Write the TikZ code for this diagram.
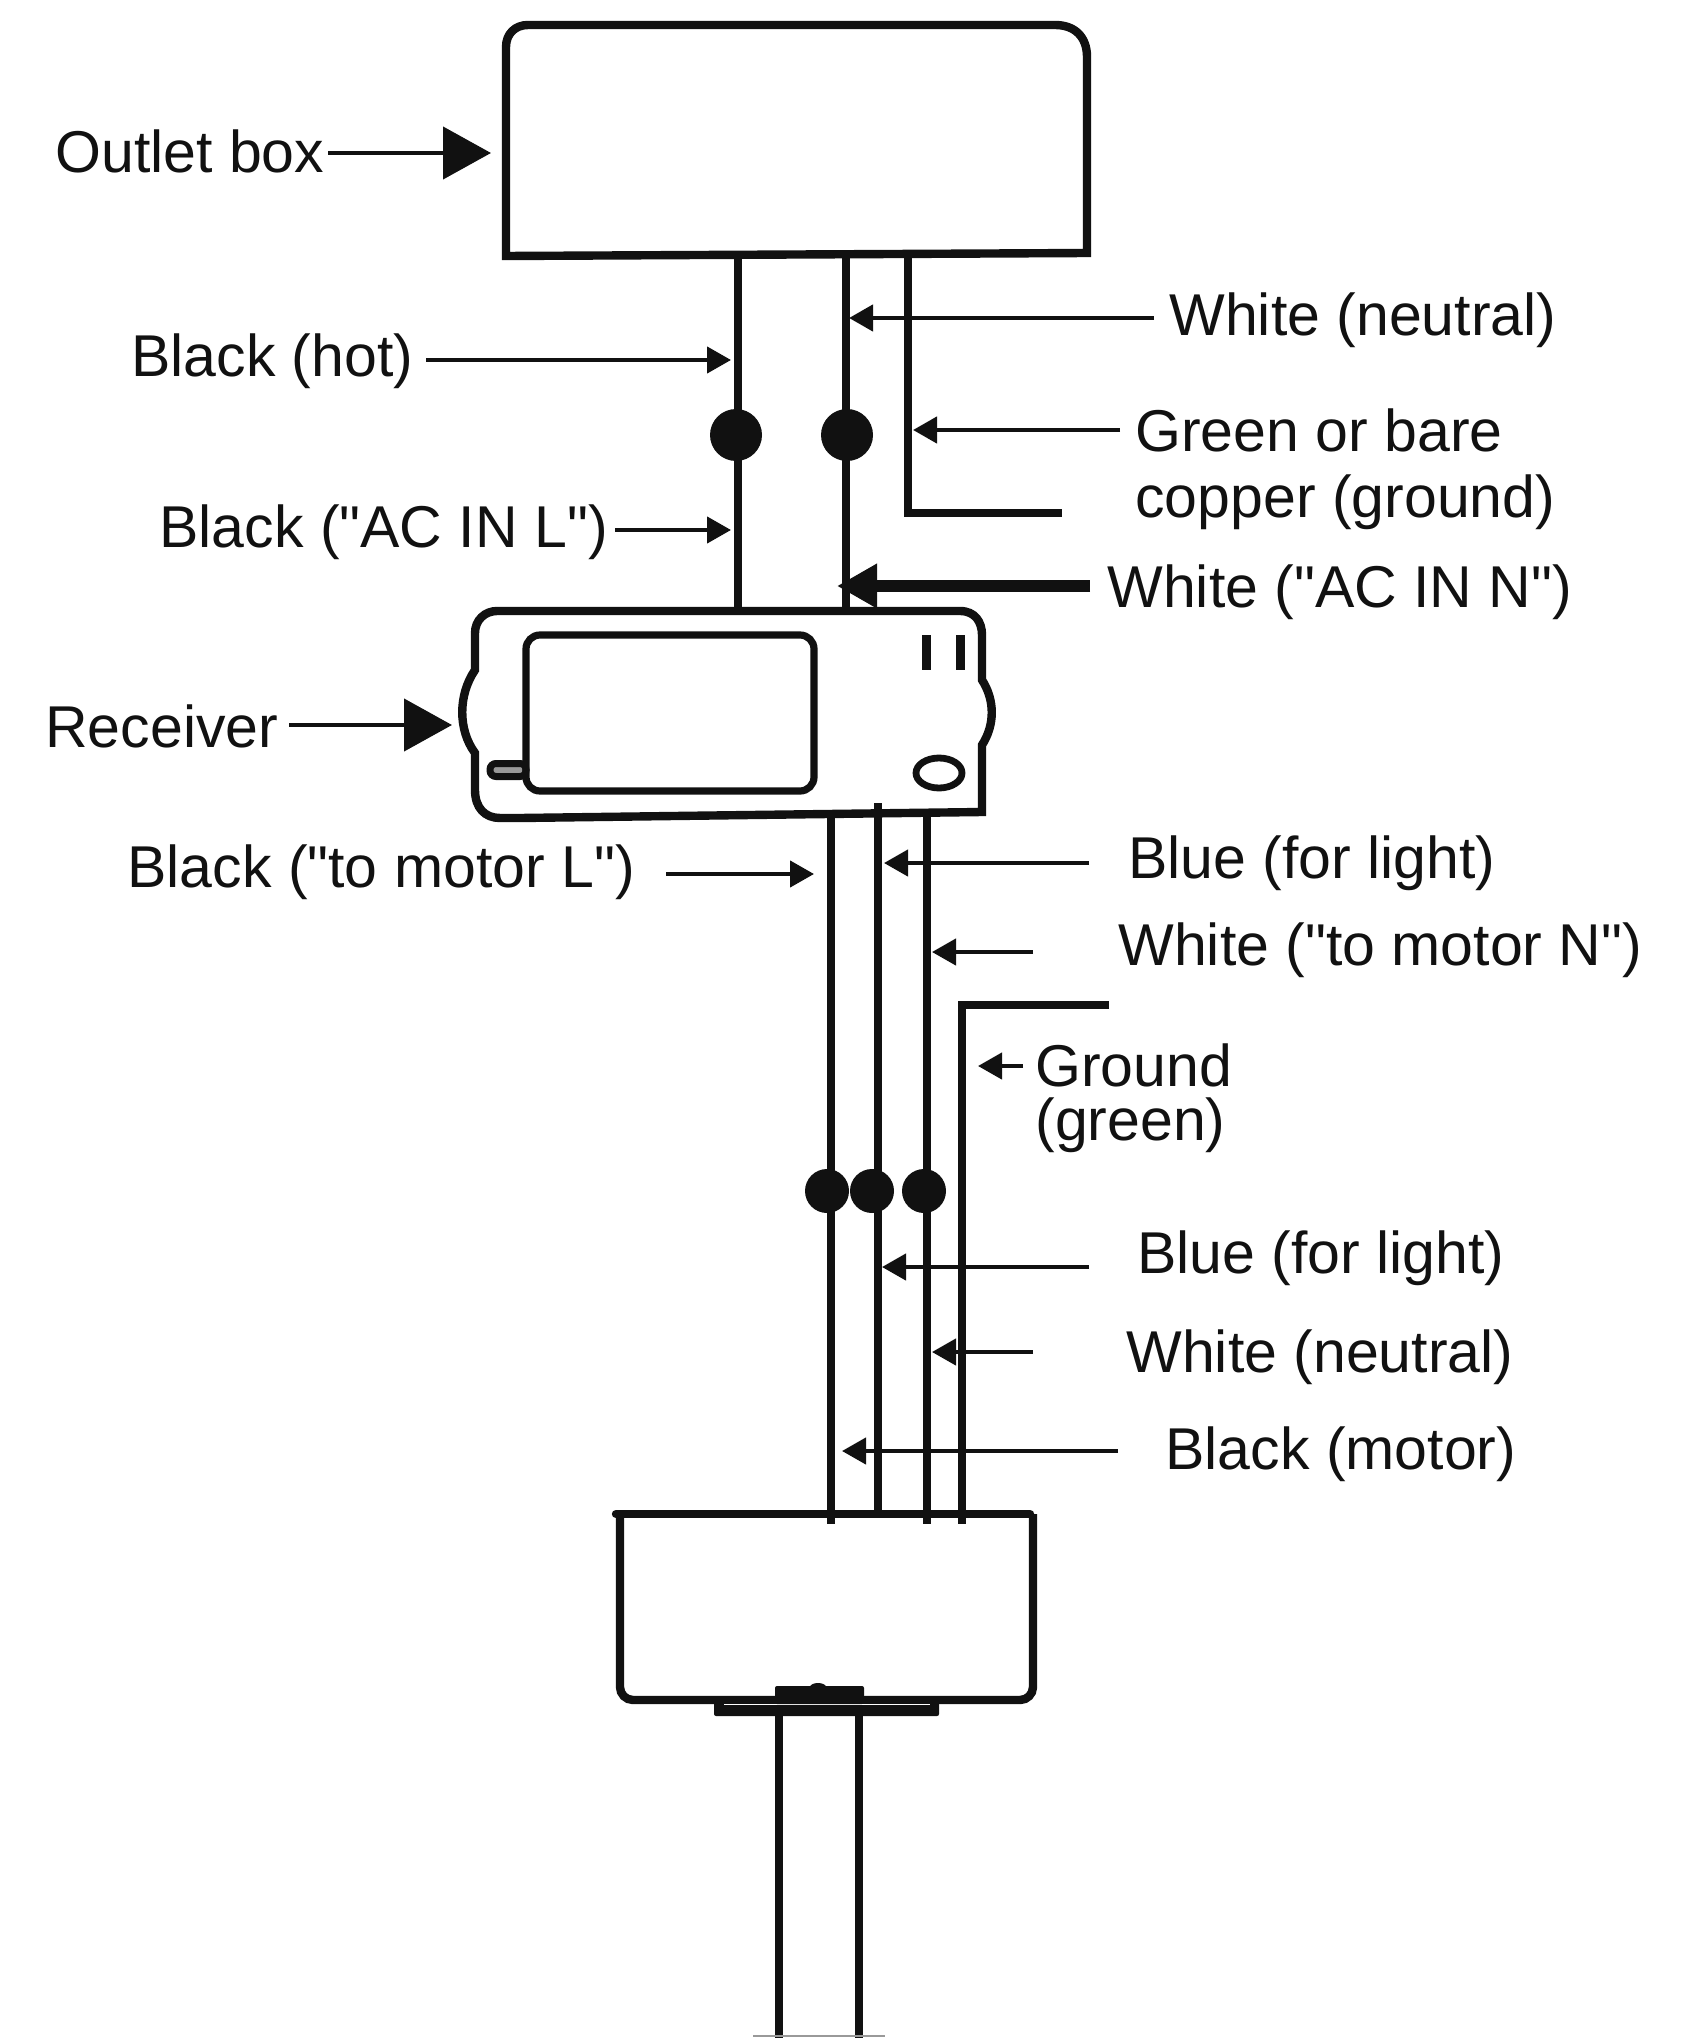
\documentclass[tikz,border=0pt]{standalone}
\usepackage{fontspec}
\newfontfamily\lblfont{Liberation Sans}
\usetikzlibrary{arrows.meta,positioning}
\definecolor{ink}{HTML}{111111}
\definecolor{tabgray}{HTML}{999999}
\tikzset{x=0.5pt, y=-0.5pt}
\tikzset{wire/.style={draw=ink,line width=4.1pt}}
\tikzset{case/.style={draw=ink,line width=4.2pt}}
\tikzset{lbl/.style={anchor=west,inner sep=0pt,text=ink,font=\lblfont\fontsize{29.5}{33}\selectfont,align=left}}
\tikzset{splice/.style={circle,fill=ink,inner sep=0pt,minimum size=#1}}
\tikzset{lead/.style={draw=ink,line width=2.2pt,-{Triangle[length=12pt,width=13pt]}}}
\tikzset{bighead/.style={draw=ink,line width=2.2pt,-{Triangle[length=24pt,width=26pt]}}}
\tikzstyle{thick lead}=[draw=ink,line width=6pt,-{Triangle[length=20pt,width=21pt]}]
\begin{document}
\begin{tikzpicture}
        \useasboundingbox (0,0) rectangle (1691,2038);
        \coordinate (hot0) at (738,256);
        \coordinate (hot1) at (738,611);
        \coordinate (neu0) at (846,254);
        \coordinate (neu1) at (846,611);
        \coordinate (gnd0) at (908,254);
        \coordinate (gnd1) at (908,513);
        \coordinate (gnd2) at (1062,513);
        \coordinate (mot0) at (831,815);
        \coordinate (mot1) at (831,1524);
        \coordinate (blu0) at (878,803);
        \coordinate (blu1) at (878,1514);
        \coordinate (whi0) at (927,812);
        \coordinate (whi1) at (927,1524);
        \coordinate (grn0) at (1109,1005);
        \coordinate (grn1) at (962,1005);
        \coordinate (grn2) at (962,1524);
        \coordinate (pipe0) at (779,1700);
        \coordinate (pipe1) at (779,2038);
        \coordinate (pipe2) at (859,1700);
        \coordinate (pipe3) at (859,2038);
        \draw[wire] (hot0) -- (hot1);
        \draw[wire] (neu0) -- (neu1);
        \draw[wire] (gnd0) -- (gnd1) -- (gnd2);
        \draw[wire] (mot0) -- (mot1);
        \draw[wire] (blu0) -- (blu1);
        \draw[wire] (whi0) -- (whi1);
        \draw[wire] (grn0) -- (grn1) -- (grn2);
        \draw[wire] (pipe0) -- (pipe1);
        \draw[wire] (pipe2) -- (pipe3);
        \draw[case] (506,256) -- (506,47) .. controls (506,34) and (515,25) .. (528,25) -- (1055,25)
                .. controls (1075,25) and (1087,37) .. (1087,57) -- (1087,253) -- cycle;
        \draw[case,fill=tabgray,line width=3.5pt,rounded corners=3pt] (490,763.5) rectangle (526,776.5);
        \draw[case] (497,611) -- (960,611) .. controls (975,611) and (982,622) .. (982,635) -- (982,680)
                .. controls (995,700) and (995,725) .. (982,745) -- (982,812) -- (520,818) -- (500,818)
                .. controls (485,818) and (475,808) .. (475,790) -- (475,753)
                .. controls (458,730) and (458,695) .. (475,670) -- (475,633)
                .. controls (475,620) and (485,611) .. (497,611) -- cycle;
        \draw[case,line width=3.6pt,rounded corners=7pt] (526,635) rectangle (814,791);
        \draw[case,line width=4.5pt] (926,635) -- (926,670);
        \draw[case,line width=4.5pt] (960,635) -- (960,670);
        \draw[case,line width=3.4pt] (939,773) ellipse (23 and 15);
        \draw[case,line cap=round] (616,1514) -- (1030,1514);
        \draw[case,rounded corners=6.5pt] (620,1514) -- (620,1700) -- (1033,1700) -- (1033,1514);
        \fill[ink,rounded corners=1pt] (714,1697) rectangle (939,1716);
        \draw[white,line width=.5pt] (724,1704) -- (930,1704);
        \fill[ink,rounded corners=1pt] (775,1686) rectangle (864,1704);
        \fill[ink] (818,1687) ellipse (8 and 4);
        \draw[tabgray,line width=1pt] (753,2036) -- (885,2036);
        \node[splice=26pt] (dotl) at (736,435) {};
        \node[splice=26pt] (dotn) at (847,435) {};
        \node[splice=22pt] (dotm) at (827,1191) {};
        \node[splice=22pt] (dotb) at (872,1191) {};
        \node[splice=22pt] (dotw) at (924,1191) {};
        \node[lbl] (outlet) at (55,151) {Outlet box};
        \node[lbl] (blackhot) at (131,361) {Black (hot)};
        \node[lbl] (blackin) at (159,532) {Black ("AC IN L")};
        \node[lbl] (whiteneu) at (1169,320) {White (neutral)};
        \node[lbl] (bare) at (1135,469) {Green or bare\\copper (ground)};
        \node[lbl] (whitein) at (1107,592) {White ("AC IN N")};
        \node[lbl] (receiver) at (45,726) {Receiver};
        \node[lbl] (blackto) at (127,872) {Black ("to motor L")};
        \node[lbl] (blueup) at (1128,863) {Blue (for light)};
        \node[lbl] (whiteto) at (1118,950) {White ("to motor N")};
        \node[lbl,font=\lblfont\fontsize{29.5}{27}\selectfont] (green) at (1035,1098) {Ground\\(green)};
        \node[lbl] (bluedn) at (1137,1258) {Blue (for light)};
        \node[lbl] (whitedn) at (1126,1357) {White (neutral)};
        \node[lbl] (blackmot) at (1165,1454) {Black (motor)};
        \coordinate (a0) at (328,153);
        \coordinate (a1) at (491,153);
        \coordinate (b0) at (426,360);
        \coordinate (b1) at (731,360);
        \coordinate (c0) at (615,530);
        \coordinate (c1) at (731,530);
        \coordinate (d0) at (1154,318);
        \coordinate (d1) at (849,318);
        \coordinate (e0) at (1120,430);
        \coordinate (e1) at (913,430);
        \coordinate (f0) at (1090,586);
        \coordinate (f1) at (837,586);
        \coordinate (g0) at (289,725);
        \coordinate (g1) at (452,725);
        \coordinate (h0) at (666,874);
        \coordinate (h1) at (814,874);
        \coordinate (i0) at (1089,863);
        \coordinate (i1) at (884,863);
        \coordinate (j0) at (1033,952);
        \coordinate (j1) at (932,952);
        \coordinate (k0) at (1023,1066);
        \coordinate (k1) at (978,1066);
        \coordinate (l0) at (1089,1267);
        \coordinate (l1) at (882,1267);
        \coordinate (m0) at (1033,1352);
        \coordinate (m1) at (932,1352);
        \coordinate (n0) at (1118,1451);
        \coordinate (n1) at (842,1451);
        \draw[bighead] (a0) -- (a1);
        \draw[lead] (b0) -- (b1);
        \draw[lead] (c0) -- (c1);
        \draw[lead] (d0) -- (d1);
        \draw[lead] (e0) -- (e1);
        \draw[thick lead] (f0) -- (f1);
        \draw[bighead] (g0) -- (g1);
        \draw[lead] (h0) -- (h1);
        \draw[lead] (i0) -- (i1);
        \draw[lead] (j0) -- (j1);
        \draw[lead] (k0) -- (k1);
        \draw[lead] (l0) -- (l1);
        \draw[lead] (m0) -- (m1);
        \draw[lead] (n0) -- (n1);
\end{tikzpicture}
\end{document}
